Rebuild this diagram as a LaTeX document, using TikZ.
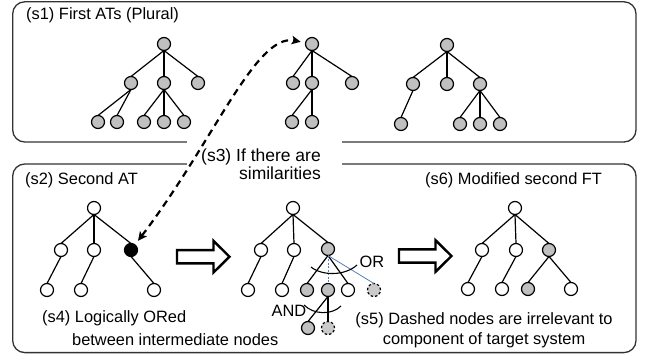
\documentclass[tikz,border=0pt]{standalone}
\usepackage{fontspec}
\setmainfont{Liberation Sans}
\usetikzlibrary{arrows.meta}
\definecolor{nodegray}{HTML}{C0C0C0}
\definecolor{paleg}{HTML}{CACACA}
\definecolor{linkblue}{HTML}{5A7FB8}
\definecolor{framegray}{HTML}{333333}

\begin{document}
\begin{tikzpicture}[x=1pt,y=-1pt,
  nd/.style={circle,draw=black,line width=1.2pt,minimum size=13pt,inner sep=0pt,outer sep=0pt},
  gn/.style={nd,fill=nodegray},
  wn/.style={nd,fill=white},
  bn/.style={nd,fill=black},
  dn/.style={nd,fill=paleg,dash pattern=on 2.5pt off 2pt},
  edge/.style={line width=1.2pt,black},
  weak/.style={line width=0.8pt,linkblue},
  panel/.style={draw=framegray,line width=1.3pt,rounded corners=12pt},
  lbl/.style={inner sep=0pt,font=\fontsize{16.4}{20}\selectfont},
  gatearc/.style={line width=1.1pt,black},
  link/.style={line width=2.2pt,dash pattern=on 7pt off 5pt,
    {Stealth[length=9pt,width=8.5pt,inset=2pt]}-{Stealth[length=9pt,width=8.5pt,inset=2pt]},
    shorten <=5pt,shorten >=5pt},
  fatarrow/.pic={\draw[line width=2.4pt,fill=white,line join=miter]
    (0,-6.6) -- (36.5,-6.6) -- (36.5,-15.8) -- (52.5,0) -- (36.5,15.8) -- (36.5,6.6) -- (0,6.6) -- cycle;}
]
\useasboundingbox (0,0) rectangle (648,356);

% panels
\draw[panel] (12.7,1.8) rectangle (636,142);
\draw[panel] (12.7,164) rectangle (636,352.6);

% opening between the panels for the middle caption
\node[fill=white,minimum width=155pt,minimum height=30pt,inner sep=0pt] (gap) at (264.5,153) {};
\node[inner sep=0pt,align=right,anchor=east,font=\fontsize{17.5}{18.5}\selectfont] (s3) at (321,164) {(s3) If there are\\similarities};

% captions
\node[lbl,anchor=west] (s1) at (26,15) {(s1) First ATs (Plural)};
\node[lbl,anchor=west] (s2) at (25,180) {(s2) Second AT};
\node[lbl,anchor=west] (s6) at (425,180) {(s6) Modified second FT};
\node[lbl,anchor=west] (s4a) at (42,318) {(s4) Logically ORed};
\node[lbl,anchor=west] (s4b) at (72,340) {between intermediate nodes};
\node[lbl,align=center] (s5) at (484,330) {(s5) Dashed nodes are irrelevant to\\component of target system};

% first ATs
\node[gn] (a0) at (164,44) {};
\node[gn] (a1) at (131,83) {};
\node[gn] (a2) at (164,83) {};
\node[gn] (a3) at (198,83) {};
\node[gn] (a11) at (98,122) {};
\node[gn] (a12) at (117,122) {};
\node[gn] (a21) at (144,122) {};
\node[gn] (a22) at (164,122) {};
\node[gn] (a23) at (184,122) {};

\node[gn] (b0) at (312,44) {};
\node[gn] (b1) at (293,83) {};
\node[gn] (b2) at (312,83) {};
\node[gn] (b3) at (352,83) {};
\node[gn] (b21) at (292,122) {};
\node[gn] (b22) at (312,122) {};

\node[gn] (c0) at (447,45) {};
\node[gn] (c1) at (413,84) {};
\node[gn] (c2) at (447,84) {};
\node[gn] (c3) at (480,84) {};
\node[gn] (c11) at (401,124) {};
\node[gn] (c31) at (460,124) {};
\node[gn] (c32) at (480,124) {};
\node[gn] (c33) at (500,124) {};

% second AT
\node[wn] (d0) at (94,208) {};
\node[wn] (d1) at (61,250) {};
\node[wn] (d2) at (94,250) {};
\node[bn] (d3) at (131,250) {};
\node[wn] (d11) at (47,290) {};
\node[wn] (d21) at (81,290) {};
\node[wn] (d31) at (154,290) {};

% second AT with merged subtree
\node[wn] (e0) at (293,208) {};
\node[wn] (e1) at (261,250) {};
\node[wn] (e2) at (294,250) {};
\node[gn] (e3) at (328,249) {};
\node[wn] (e11) at (248,290) {};
\node[wn] (e21) at (282,290) {};
\node[gn] (e31) at (307,290) {};
\node[gn] (e32) at (328,290) {};
\node[wn] (e33) at (348,290) {};
\node[dn] (e34) at (374,290) {};
\node[gn] (e321) at (308,328) {};
\node[dn] (e322) at (328,328) {};

% modified second FT
\node[wn] (f0) at (515,208) {};
\node[wn] (f1) at (482,250) {};
\node[wn] (f2) at (516,250) {};
\node[gn] (f3) at (549,250) {};
\node[wn] (f11) at (468,289) {};
\node[wn] (f21) at (502,289) {};
\node[gn] (f31) at (528,289) {};
\node[wn] (f32) at (571,289) {};

% tree edges
\foreach \p/\c in {a0/a1,a0/a2,a0/a3,a1/a11,a1/a12,a2/a21,a2/a22,a2/a23,
  b0/b1,b0/b2,b0/b3,b2/b21,b2/b22,
  c0/c1,c0/c2,c0/c3,c1/c11,c3/c31,c3/c32,c3/c33,
  d0/d1,d0/d2,d0/d3,d1/d11,d2/d21,d3/d31,
  e0/e1,e0/e2,e0/e3,e1/e11,e2/e21,e3/e31,e3/e33,e32/e321,e32/e322,
  f0/f1,f0/f2,f0/f3,f1/f11,f2/f21,f3/f31,f3/f32}
  \draw[edge] (\p.south) -- (\c.north);
\draw[weak,dash pattern=on 2pt off 1.5pt] (e3.south) -- (e32.north);
\draw[weak] (e3.south) -- (e34.north);

% gate marks
\draw[gatearc] (311,267) .. controls (322,276) and (345,276) .. (357,265);
\node[lbl] (orl) at (372,262) {OR};
\draw[gatearc] (304,305) .. controls (314,315) and (332,315) .. (341,306);
\node[lbl] (andl) at (289,311) {AND};

% hollow transition arrows
\pic at (177,256.7) {fatarrow};
\pic at (399,256) {fatarrow};

% similarity link
\coordinate (k1) at (214,141);
\coordinate (k2) at (256,33);
\draw[link] (d3) .. controls (k1) and (k2) .. (b0);
\end{tikzpicture}
\end{document}
